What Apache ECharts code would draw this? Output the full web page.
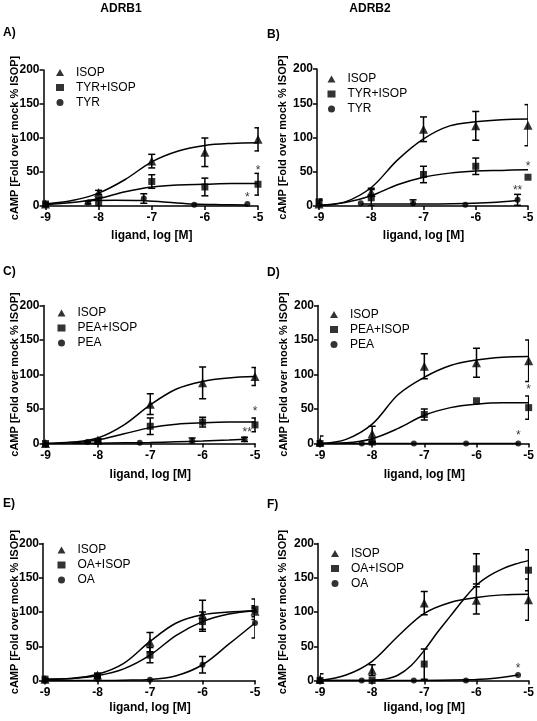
<!DOCTYPE html>
<html><head><meta charset="utf-8">
<script src="https://cdn.jsdelivr.net/npm/echarts@6/dist/echarts.min.js"></script>
<style>html,body{margin:0;padding:0;background:#fff}#c{width:537px;height:721px}</style>
</head><body><div id="c"></div><script>
// ---------- data ----------
const xTicks = [-9, -8, -7, -6, -5];
const yTicks = [0, 50, 100, 150, 200];
const X = [-9, -8, -7, -6, -5];                       // concentration points
const XC = [-9, -8.5, -8, -7.5, -7, -6.5, -6, -5.5, -5]; // curve read-off points

// Panel A (ADRB1, TYR)
const isopA = [3, 20, 66, 79, 98];          const isopA_err = [2, 3, 10, 21, 17];
const tyrIsopA = [3, 6, 36, 28, 32];        const tyrIsopA_err = [1, 6, 10, 13, 16];
const tyrA_x = [-8.2, -7.15, -6.2, -5.2];   const tyrA = [5, 11, 2, 3]; const tyrA_err = [2, 7, 0, 0];
const isopA_fit = [3, 8, 19, 39, 65, 81, 89, 92, 93];
const tyrIsopA_fit = [2, 5, 11, 21, 28, 31, 32, 33, 33];
const tyrA_fit_x = [-8.2, -7.7, -7.2, -6.7, -6.2, -5.7, -5.2];
const tyrA_fit = [8, 8.5, 8, 5.5, 3, 2, 1.5];
const starsA = [[-5, 56, '*'], [-5.2, 16, '*']];

// Panel B (ADRB2, TYR)
const isopB = [3, 20, 112, 117, 118];       const isopB_err = [5, 6, 18, 21, 30];
const tyrIsopB = [6, 12, 46, 58, 42];       const tyrIsopB_err = [4, 12, 12, 12, 0];
const tyrB_x = [-8.2, -7.2, -6.2, -5.2];    const tyrB = [4, 4, 2, 9]; const tyrB_err = [0, 5, 0, 8];
const isopB_fit = [0.5, 6, 27, 67, 98, 117, 123, 126, 127];
const tyrIsopB_fit = [1, 5, 15, 31, 42, 48, 51, 52, 53];
const tyrB_fit_x = [-8.2, -7.7, -7.2, -6.7, -6.2, -5.7, -5.2];
const tyrB_fit = [3, 3, 3, 3, 3.5, 5, 8];
const starsB = [[-5, 62, '*'], [-5.2, 27, '**']];

// Panel C (ADRB1, PEA)
const isopC = [0, 5, 57, 88, 97];           const isopC_err = [1, 2, 15, 23, 13];
const peaIsopC = [0, 3, 25, 31, 27];        const peaIsopC_err = [0, 2, 12, 7, 10];
const peaC_x = [-8.2, -7.2, -6.2, -5.2];    const peaC = [2, 1, 4, 6]; const peaC_err = [1, 0, 4, 3];
const isopC_fit = [0, 2, 8, 27, 56, 79, 90, 95, 97];
const peaIsopC_fit = [0, 1, 5, 14, 23, 28, 30, 31, 31];
const peaC_fit_x = [-8.5, -8, -7.5, -7, -6.5, -6, -5.5, -5.2];
const peaC_fit = [0, 0.5, 1, 1.5, 2.5, 3.5, 5, 6];
const starsC = [[-5, 50, '*'], [-5.15, 20, '**']];

// Panel D (ADRB2, PEA)
const isopD = [2, 14, 112, 117, 120];       const isopD_err = [9, 11, 18, 21, 30];
const peaIsopD = [0, 2, 42, 62, 52];        const peaIsopD_err = [0, 1, 8, 0, 17];
const peaD_x = [-9, -8.2, -7.2, -6.2, -5.2]; const peaD = [0, 0, 0, 0, 0]; const peaD_err = [0, 0, 0, 0, 0];
const isopD_fit = [0, 6, 28, 71, 96, 113, 121, 125, 126];
const peaIsopD_fit = [0, 1, 7, 22, 41, 52, 57, 59, 59];
const peaD_fit_x = [-9, -5.2];
const peaD_fit = [0, 0];
const starsD = [[-5, 82, '*'], [-5.2, 15, '*']];

// Panel E (ADRB1, OA)
const isopE = [2, 8, 56, 96, 101];          const isopE_err = [1, 2, 14, 21, 8];
const oaIsopE = [2, 7, 37, 86, 104];        const oaIsopE_err = [1, 2, 11, 14, 15];
const oaE_x = [-9, -8, -7, -6, -5];         const oaE = [0, 2, 1, 23, 84]; const oaE_err = [0, 0, 0, 12, 22];
const isopE_fit = [2, 3, 9, 25, 57, 84, 96, 100, 102];
const oaIsopE_fit = [2, 3, 7, 17, 37, 66, 86, 97, 102];
const oaE_fit_x = [-9, -8.5, -8, -7.5, -7, -6.5, -6, -5.5, -5];
const oaE_fit = [0, 0, 0, 0.5, 1.5, 7, 23, 53, 84];
const starsE = [];

// Panel F (ADRB2, OA)
const isopF = [2, 15, 113, 117, 118];       const isopF_err = [8, 8, 17, 20, 30];
const oaIsopF = [0, 0, 24, 163, 161];       const oaIsopF_err = [0, 0, 22, 22, 30];
const oaF_x = [-9, -8.2, -7.2, -6.2, -5.2]; const oaF = [0, 0, 0, 0, 8]; const oaF_err = [0, 0, 0, 0, 0];
const isopF_fit = [0, 8, 28, 65, 98, 114, 121, 125, 126];
const oaIsopF_fit_x = [-9, -8.5, -8, -7.75, -7.5, -7.25, -7, -6.75, -6.5, -6.25, -6, -5.75, -5.5, -5.25, -5];
const oaIsopF_fit = [0, 0, 0.5, 2, 8, 22, 44, 70, 94, 118, 139, 153, 163, 170, 175];
const oaF_fit_x = [-9, -8.2, -7.2, -6.2, -5.7, -5.2];
const oaF_fit = [0, 0, 0, 1, 3, 8];
const starsF = [[-5.2, 22, '*']];

const legendNames = [
  ['ISOP', 'TYR+ISOP', 'TYR'], ['ISOP', 'TYR+ISOP', 'TYR'],
  ['ISOP', 'PEA+ISOP', 'PEA'], ['ISOP', 'PEA+ISOP', 'PEA'],
  ['ISOP', 'OA+ISOP', 'OA'],   ['ISOP', 'OA+ISOP', 'OA']
];
const xName = 'ligand, log [M]';
const yName = 'cAMP [Fold over mock % ISOP]';
const colTitles = ['ADRB1', 'ADRB2'];
const panelLetters = ['A)', 'B)', 'C)', 'D)', 'E)', 'F)'];

// ---------- layout / styling ----------
const FONT = "'Liberation Sans', Arial, sans-serif";
const grids = [
  {left: 45.5, top: 70, width: 212.5, height: 136},
  {left: 319, top: 69, width: 209, height: 137},
  {left: 45.5, top: 305.5, width: 209.5, height: 138},
  {left: 320, top: 305.5, width: 209.5, height: 138},
  {left: 45, top: 543.5, width: 210, height: 137},
  {left: 320, top: 543.5, width: 208.5, height: 137}
];
const yNameX = [15, 283, 15, 283.5, 15, 283];
const xNameGap = [24, 24, 25, 25, 21, 21];
const legendPos = [
  {left: 56, top: 65}, {left: 327.5, top: 71.5},
  {left: 57.5, top: 305.5}, {left: 330, top: 307},
  {left: 57.5, top: 542.5}, {left: 331, top: 546}
];
const letterPos = [[3, 33], [267, 35], [3, 272], [267, 272.5], [3, 503.5], [267, 505]];

const panels = [
  {pts: [[X, isopA, isopA_err], [X, tyrIsopA, tyrIsopA_err], [tyrA_x, tyrA, tyrA_err]],
   fits: [[XC, isopA_fit], [XC, tyrIsopA_fit], [tyrA_fit_x, tyrA_fit]], stars: starsA},
  {pts: [[X, isopB, isopB_err], [X, tyrIsopB, tyrIsopB_err], [tyrB_x, tyrB, tyrB_err]],
   fits: [[XC, isopB_fit], [XC, tyrIsopB_fit], [tyrB_fit_x, tyrB_fit]], stars: starsB},
  {pts: [[X, isopC, isopC_err], [X, peaIsopC, peaIsopC_err], [peaC_x, peaC, peaC_err]],
   fits: [[XC, isopC_fit], [XC, peaIsopC_fit], [peaC_fit_x, peaC_fit]], stars: starsC},
  {pts: [[X, isopD, isopD_err], [X, peaIsopD, peaIsopD_err], [peaD_x, peaD, peaD_err]],
   fits: [[XC, isopD_fit], [XC, peaIsopD_fit], [peaD_fit_x, peaD_fit]], stars: starsD},
  {pts: [[X, isopE, isopE_err], [X, oaIsopE, oaIsopE_err], [oaE_x, oaE, oaE_err]],
   fits: [[XC, isopE_fit], [XC, oaIsopE_fit], [oaE_fit_x, oaE_fit]], stars: starsE},
  {pts: [[X, isopF, isopF_err], [X, oaIsopF, oaIsopF_err], [oaF_x, oaF, oaF_err]],
   fits: [[XC, isopF_fit], [oaIsopF_fit_x, oaIsopF_fit], [oaF_fit_x, oaF_fit]], stars: starsF}
];
const symbols = ['triangle', 'rect', 'circle'];
const symbolSizes = [9, 7, 6];

function errItem(params, api) {
  const x = api.value(0), lo = api.value(1), hi = api.value(2);
  const t = api.coord([x, hi]), b = api.coord([x, lo]);
  const hw = 3.5, st = {stroke: '#000', lineWidth: 1.5};
  return {type: 'group', children: [
    {type: 'line', shape: {x1: t[0], y1: t[1], x2: b[0], y2: b[1]}, style: st},
    {type: 'line', shape: {x1: t[0] - hw, y1: t[1], x2: t[0] + hw, y2: t[1]}, style: st},
    {type: 'line', shape: {x1: b[0] - hw, y1: b[1], x2: b[0] + hw, y2: b[1]}, style: st}
  ]};
}

const series = [];
panels.forEach((p, i) => {
  p.fits.forEach((f, k) => {
    series.push({type: 'line', name: 'fit' + i + '_' + k, xAxisIndex: i, yAxisIndex: i,
      data: f[0].map((x, j) => [x, f[1][j]]), smooth: 0.35,
      showSymbol: false, symbol: 'none', silent: true, z: 2,
      lineStyle: {color: '#000', width: 1.5}});
  });
  p.pts.forEach((s, k) => {
    const eb = [];
    s[0].forEach((x, j) => { if (s[2][j] > 0) eb.push([x, s[1][j] - s[2][j], s[1][j] + s[2][j]]); });
    series.push({type: 'custom', name: 'eb' + i + '_' + k, xAxisIndex: i, yAxisIndex: i,
      renderItem: errItem, data: eb, encode: {x: 0, y: [1, 2]}, silent: true, z: 3, clip: true});
    series.push({type: 'scatter', name: legendNames[i][k], xAxisIndex: i, yAxisIndex: i,
      symbol: symbols[k], symbolSize: symbolSizes[k], itemStyle: {color: '#000'},
      data: s[0].map((x, j) => [x, s[1][j]]), z: 4, silent: true});
  });
  if (p.stars.length) {
    series.push({type: 'scatter', name: 'stars' + i, xAxisIndex: i, yAxisIndex: i,
      symbolSize: 0, silent: true, z: 5,
      data: p.stars.map(s => ({value: [s[0], s[1]], name: s[2]})),
      label: {show: true, position: 'inside', formatter: '{b}', offset: [0, 3],
        color: '#000', fontSize: 12, fontFamily: FONT}});
  }
});

const graphic = [];
colTitles.forEach((t, i) => graphic.push({type: 'text', x: i === 0 ? 121 : 370, y: 9,
  style: {text: t, font: 'bold 12px ' + FONT, fill: '#000', align: 'center', verticalAlign: 'middle'}}));
panelLetters.forEach((t, i) => graphic.push({type: 'text', x: letterPos[i][0], y: letterPos[i][1],
  style: {text: t, font: 'bold 12px ' + FONT, fill: '#000', align: 'left', verticalAlign: 'middle'}}));
grids.forEach((g, i) => graphic.push({type: 'text', x: yNameX[i], y: g.top + g.height / 2,
  rotation: Math.PI / 2,
  style: {text: yName, font: 'bold 11px ' + FONT, fill: '#000', align: 'center', verticalAlign: 'middle'}}));

const option = {
  backgroundColor: '#fff',
  animation: false,
  grid: grids.map(g => Object.assign({containLabel: false}, g)),
  xAxis: grids.map((g, i) => ({
    gridIndex: i, type: 'value', min: xTicks[0], max: xTicks[xTicks.length - 1],
    interval: xTicks[1] - xTicks[0],
    axisLine: {show: true, onZero: false, lineStyle: {color: '#000', width: 1.5}},
    axisTick: {show: true, length: 4, lineStyle: {color: '#000', width: 1.5}},
    axisLabel: {color: '#000', fontWeight: 'bold', fontSize: 12, fontFamily: FONT, margin: 6},
    splitLine: {show: false},
    name: xName, nameLocation: 'middle', nameGap: xNameGap[i],
    nameTextStyle: {color: '#000', fontWeight: 'bold', fontSize: 12, fontFamily: FONT}
  })),
  yAxis: grids.map((g, i) => ({
    gridIndex: i, type: 'value', min: yTicks[0], max: yTicks[yTicks.length - 1],
    interval: yTicks[1] - yTicks[0], offset: 2,
    axisLine: {show: true, lineStyle: {color: '#000', width: 1.5}},
    axisTick: {show: true, length: 4, lineStyle: {color: '#000', width: 1.5}},
    axisLabel: {color: '#000', fontWeight: 'bold', fontSize: 12, fontFamily: FONT, margin: 4},
    splitLine: {show: false}
  })),
  legend: legendNames.map((names, i) => ({
    data: names, orient: 'vertical', left: legendPos[i].left, top: legendPos[i].top,
    padding: 0, itemGap: 0, itemWidth: 8, itemHeight: 7, selectedMode: false,
    textStyle: {color: '#000', fontSize: 12, fontFamily: FONT, lineHeight: 15, padding: [0, 0, 0, 7]}
  })),
  graphic: graphic,
  series: series
};
const chart = echarts.init(document.getElementById('c'));
chart.setOption(option);
</script></body></html>
